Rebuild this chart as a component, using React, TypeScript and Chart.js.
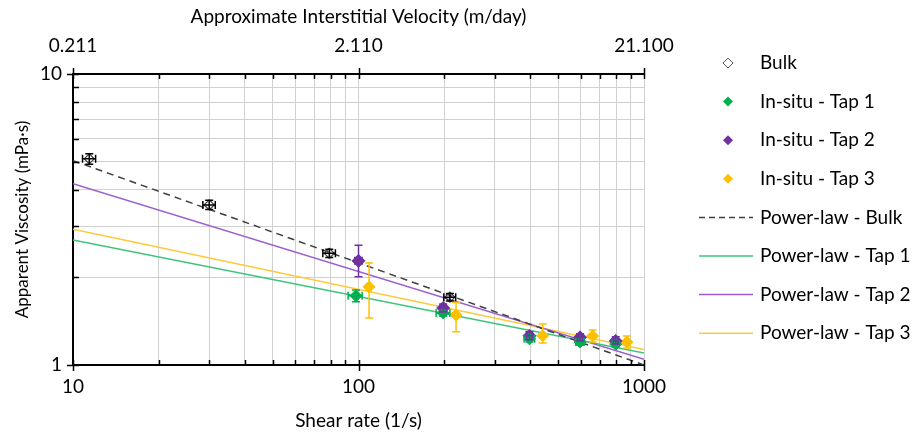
import React, { useEffect, useRef } from "react";
import { Chart, registerables } from "chart.js";
Chart.register(...registerables);

const FONT = "Lato, 'Liberation Sans', sans-serif";

// Bulk rheometer data
const bulkShear = [11.4, 30, 79, 209];
const bulkVisc = [5.11, 3.55, 2.42, 1.71];
const bulkViscLow = [4.9, 3.42, 2.34, 1.66];
const bulkViscHigh = [5.32, 3.68, 2.5, 1.76];
const bulkShearLow = [10.8, 28.5, 75, 199];
const bulkShearHigh = [12.0, 31.5, 83, 219];

// In-situ Tap 1
const tap1Shear = [98, 198, 397, 597, 796];
const tap1Visc = [1.73, 1.51, 1.23, 1.2, 1.18];
const tap1ViscLow = [1.65, 1.47, 1.2, 1.17, 1.15];
const tap1ViscHigh = [1.81, 1.55, 1.26, 1.23, 1.21];
const tap1ShearLow = [92, 187, 380, 577, 775];
const tap1ShearHigh = [103, 209, 414, 617, 817];

// In-situ Tap 2
const tap2Shear = [100, 198, 397, 597, 796];
const tap2Visc = [2.28, 1.57, 1.26, 1.245, 1.21];
const tap2ViscLow = [2.01, 1.52, 1.22, 1.21, 1.18];
const tap2ViscHigh = [2.58, 1.62, 1.3, 1.28, 1.25];
const tap2ShearLow = [97, 193, 388, 585, 782];
const tap2ShearHigh = [103, 203, 406, 609, 810];

// In-situ Tap 3
const tap3Shear = [108.9, 219.6, 441.7, 661, 871];
const tap3Visc = [1.856, 1.486, 1.26, 1.258, 1.2];
const tap3ViscLow = [1.45, 1.3, 1.19, 1.2, 1.144];
const tap3ViscHigh = [2.24, 1.64, 1.384, 1.32, 1.258];

// Power-law fits (end points of each fitted line)
const fitShear = [10, 1000];
const fitBulk = [5.04, 1.0];
const fitTap1 = [2.69, 1.1];
const fitTap2 = [4.2, 1.046];
const fitTap3 = [2.93, 1.13];

// Axis ticks
const xTickValues = [10, 20, 30, 40, 50, 60, 70, 80, 90, 100, 200, 300, 400, 500, 600, 700, 800, 900, 1000];
const xMajor = [10, 100, 1000];
const yTickValues = [1, 2, 3, 4, 5, 6, 7, 8, 9, 10];
const yMajor = [1, 10];
const topTickValues = [0.211, 2.11, 21.1];
const topTickLabels = ["0.211", "2.110", "21.100"];

const legendLabels = [
  "Bulk",
  "In-situ - Tap 1",
  "In-situ - Tap 2",
  "In-situ - Tap 3",
  "Power-law - Bulk",
  "Power-law - Tap 1",
  "Power-law - Tap 2",
  "Power-law - Tap 3",
];

const GREEN = "#00b050";
const PURPLE = "#7030a0";
const YELLOW = "#ffc000";
const GREEN_L = "#3cc47c";
const PURPLE_L = "#9b5fd0";
const YELLOW_L = "#ffc93c";
const DASH = "#404040";

function pts(xs: number[], ys: number[]) {
  return xs.map((x, i) => ({ x, y: ys[i] }));
}

const errorSets = [
  { x: bulkShear, y: bulkVisc, yl: bulkViscLow, yh: bulkViscHigh, xl: bulkShearLow, xh: bulkShearHigh, color: "#000000" },
  { x: tap1Shear, y: tap1Visc, yl: tap1ViscLow, yh: tap1ViscHigh, xl: tap1ShearLow, xh: tap1ShearHigh, color: GREEN },
  { x: tap2Shear, y: tap2Visc, yl: tap2ViscLow, yh: tap2ViscHigh, xl: tap2ShearLow, xh: tap2ShearHigh, color: PURPLE },
  { x: tap3Shear, y: tap3Visc, yl: tap3ViscLow, yh: tap3ViscHigh, xl: null, xh: null, color: YELLOW },
];

const errorBarPlugin = {
  id: "errorBars",
  afterDatasetsDraw(chart: any) {
    const { ctx } = chart;
    const xs = chart.scales.x;
    const ys = chart.scales.y;
    ctx.save();
    ctx.lineWidth = 1.5;
    errorSets.forEach((s) => {
      ctx.strokeStyle = s.color;
      s.x.forEach((xv, i) => {
        const px = xs.getPixelForValue(xv);
        const py = ys.getPixelForValue(s.y[i]);
        const pl = ys.getPixelForValue(s.yl[i]);
        const ph = ys.getPixelForValue(s.yh[i]);
        ctx.beginPath();
        ctx.moveTo(px, pl);
        ctx.lineTo(px, ph);
        ctx.moveTo(px - 4, pl);
        ctx.lineTo(px + 4, pl);
        ctx.moveTo(px - 4, ph);
        ctx.lineTo(px + 4, ph);
        if (s.xl && s.xh) {
          const xl = xs.getPixelForValue(s.xl[i]);
          const xh = xs.getPixelForValue(s.xh[i]);
          ctx.moveTo(xl, py);
          ctx.lineTo(xh, py);
          ctx.moveTo(xl, py - 4);
          ctx.lineTo(xl, py + 4);
          ctx.moveTo(xh, py - 4);
          ctx.lineTo(xh, py + 4);
        }
        ctx.stroke();
      });
    });
    ctx.restore();
  },
};

const tickPlugin = {
  id: "innerTicks",
  afterDraw(chart: any) {
    const { ctx, chartArea } = chart;
    const xs = chart.scales.x;
    const ys = chart.scales.y;
    ctx.save();
    ctx.strokeStyle = "#000";
    ctx.lineWidth = 1.5;
    ctx.beginPath();
    xTickValues.forEach((v) => {
      const px = Math.round(xs.getPixelForValue(v)) + 0.5;
      const major = xMajor.includes(v);
      ctx.moveTo(px, chartArea.bottom + (major ? 6 : 0));
      ctx.lineTo(px, chartArea.bottom - 5);
      ctx.moveTo(px, chartArea.top - (major ? 6 : 0));
      ctx.lineTo(px, chartArea.top + 5);
    });
    yTickValues.forEach((v) => {
      const py = Math.round(ys.getPixelForValue(v)) + 0.5;
      const major = yMajor.includes(v);
      ctx.moveTo(chartArea.left - (major ? 6 : 0), py);
      ctx.lineTo(chartArea.left + 6, py);
    });
    ctx.stroke();
    ctx.restore();
  },
};

const legendPlugin = {
  id: "customLegend",
  afterDraw(chart: any) {
    const { ctx } = chart;
    const x0 = 699;
    const x1 = 753;
    const mx = 728;
    const tx = 760;
    const y0 = 63;
    const step = 38.6;
    ctx.save();
    ctx.font = `19px ${FONT}`;
    ctx.textBaseline = "middle";
    ctx.textAlign = "left";
    legendLabels.forEach((label, i) => {
      const y = y0 + i * step;
      if (i < 4) {
        const r = 5;
        ctx.beginPath();
        ctx.moveTo(mx, y - r);
        ctx.lineTo(mx + r, y);
        ctx.lineTo(mx, y + r);
        ctx.lineTo(mx - r, y);
        ctx.closePath();
        if (i === 0) {
          ctx.strokeStyle = "#595959";
          ctx.lineWidth = 1;
          ctx.stroke();
        } else {
          ctx.fillStyle = [GREEN, PURPLE, YELLOW][i - 1];
          ctx.fill();
        }
      } else {
        ctx.beginPath();
        ctx.lineWidth = 1.5;
        ctx.strokeStyle = [DASH, GREEN_L, PURPLE_L, YELLOW_L][i - 4];
        ctx.setLineDash(i === 4 ? [6, 4] : []);
        ctx.moveTo(x0, y);
        ctx.lineTo(x1, y);
        ctx.stroke();
        ctx.setLineDash([]);
      }
      ctx.fillStyle = "#000";
      ctx.fillText(label, tx, y);
    });
    ctx.restore();
  },
};

export default function App() {
  const ref = useRef<HTMLCanvasElement | null>(null);
  useEffect(() => {
    if (!ref.current) return;
    const tickFont = { family: FONT, size: 19 };
    const titleFont = { family: FONT, size: 19 };
    const yTitleFont = { family: FONT, size: 17 };
    const chart = new Chart(ref.current, {
      type: "scatter",
      data: {
        datasets: [
          {
            label: "Bulk",
            data: pts(bulkShear, bulkVisc),
            pointStyle: "rectRot",
            pointRadius: 5,
            backgroundColor: "rgba(255,255,255,0)",
            borderColor: "#404040",
            pointBorderWidth: 1.2,
            showLine: false,
          },
          {
            label: "In-situ - Tap 1",
            data: pts(tap1Shear, tap1Visc),
            pointStyle: "rectRot",
            pointRadius: 6,
            backgroundColor: GREEN,
            borderColor: GREEN,
            showLine: false,
          },
          {
            label: "In-situ - Tap 2",
            data: pts(tap2Shear, tap2Visc),
            pointStyle: "rectRot",
            pointRadius: 6.5,
            backgroundColor: PURPLE,
            borderColor: PURPLE,
            showLine: false,
          },
          {
            label: "In-situ - Tap 3",
            data: pts(tap3Shear, tap3Visc),
            pointStyle: "rectRot",
            pointRadius: 6,
            backgroundColor: YELLOW,
            borderColor: YELLOW,
            showLine: false,
          },
          {
            label: "Power-law - Bulk",
            data: pts(fitShear, fitBulk),
            showLine: true,
            borderColor: DASH,
            borderWidth: 1.5,
            borderDash: [7, 5],
            pointRadius: 0,
          },
          {
            label: "Power-law - Tap 1",
            data: pts(fitShear, fitTap1),
            showLine: true,
            borderColor: GREEN_L,
            borderWidth: 1.5,
            pointRadius: 0,
          },
          {
            label: "Power-law - Tap 2",
            data: pts(fitShear, fitTap2),
            showLine: true,
            borderColor: PURPLE_L,
            borderWidth: 1.5,
            pointRadius: 0,
          },
          {
            label: "Power-law - Tap 3",
            data: pts(fitShear, fitTap3),
            showLine: true,
            borderColor: YELLOW_L,
            borderWidth: 1.5,
            pointRadius: 0,
          },
        ],
      },
      options: {
        animation: false,
        responsive: false,
        maintainAspectRatio: false,
        layout: { padding: { left: 0, top: 0, right: 273, bottom: 0 } },
        plugins: {
          legend: { display: false },
          tooltip: { enabled: false },
        },
        scales: {
          x: {
            type: "logarithmic",
            position: "bottom",
            min: 10,
            max: 1000,
            afterBuildTicks: (s: any) => {
              s.ticks = xTickValues.map((v) => ({ value: v }));
            },
            afterFit: (s: any) => {
              s.height = 70;
            },
            ticks: {
              autoSkip: false,
              maxRotation: 0,
              padding: 10,
              color: "#000",
              font: tickFont,
              callback: (v: any) => (xMajor.includes(Number(v)) ? String(v) : ""),
            },
            grid: { color: "#d0d0d0", lineWidth: 1, drawTicks: false },
            border: { display: true, color: "#000", width: 2 },
            title: {
              display: true,
              text: "Shear rate (1/s)",
              color: "#000",
              font: titleFont,
              padding: { top: 0, bottom: 3 },
            },
          },
          x2: {
            type: "logarithmic",
            position: "top",
            min: 0.211,
            max: 21.1,
            afterBuildTicks: (s: any) => {
              s.ticks = topTickValues.map((v) => ({ value: v }));
            },
            afterFit: (s: any) => {
              s.height = 74;
            },
            ticks: {
              autoSkip: false,
              maxRotation: 0,
              padding: 17,
              color: "#000",
              font: tickFont,
              callback: (v: any) => {
                const i = topTickValues.indexOf(Number(v));
                return i >= 0 ? topTickLabels[i] : "";
              },
            },
            grid: { display: false, drawTicks: false },
            border: { display: true, color: "#000", width: 2 },
            title: {
              display: true,
              text: "Approximate Interstitial Velocity (m/day)",
              color: "#000",
              font: titleFont,
              padding: { top: 5, bottom: 0 },
            },
          },
          y: {
            type: "logarithmic",
            min: 1,
            max: 10,
            afterBuildTicks: (s: any) => {
              s.ticks = yTickValues.map((v) => ({ value: v }));
            },
            afterFit: (s: any) => {
              s.width = 73;
            },
            ticks: {
              autoSkip: false,
              padding: 11,
              color: "#000",
              font: tickFont,
              callback: (v: any) => (yMajor.includes(Number(v)) ? String(v) : ""),
            },
            grid: { color: "#d0d0d0", lineWidth: 1, drawTicks: false },
            border: { display: true, color: "#000", width: 2 },
            title: {
              display: true,
              text: "Apparent Viscosity (mPa·s)",
              color: "#000",
              font: yTitleFont,
              padding: { top: 12, bottom: 0 },
            },
          },
        },
      },
      plugins: [errorBarPlugin, tickPlugin, legendPlugin],
    } as any);
    return () => chart.destroy();
  }, []);
  return (
    <div style={{ position: "fixed", left: 0, top: 0, width: 917, height: 435, background: "#fff" }}>
      <canvas ref={ref} width={917} height={435} style={{ display: "block" }} />
    </div>
  );
}
